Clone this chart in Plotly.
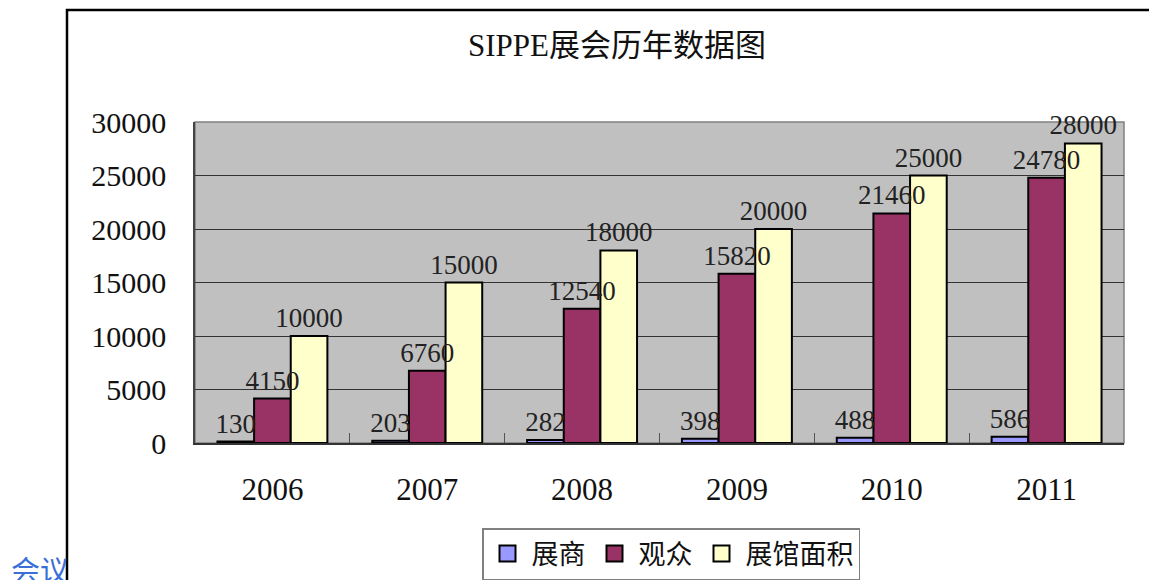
import plotly.graph_objects as go

years = ["2006", "2007", "2008", "2009", "2010", "2011"]
exhibitors = [130, 203, 282, 398, 488, 586]
visitors = [4150, 6760, 12540, 15820, 21460, 24780]
hall_area = [10000, 15000, 18000, 20000, 25000, 28000]
series_names = ["展商", "观众", "展馆面积"]
colors = ["#9999FF", "#993366", "#FFFFCC"]

OFF = 8  # page body margin
W, H = 1157 - OFF, 580 - OFF
L, R, T, B = 195 - OFF, 1124 - OFF, 122 - OFF, 443 - OFF

def px(x):
    return (x - OFF - L) / (R - L)

def py(y):
    return (B - (y - OFF)) / (B - T)

def cy(y):
    return 1 - (y - OFF) / H

FONT = "Liberation Serif, Noto Sans CJK SC, serif"
all_series = [exhibitors, visitors, hall_area]

fig = go.Figure()
# bars
for name, vals, col in zip(series_names, all_series, colors):
    fig.add_trace(go.Bar(
        x=years, y=vals, name=name, showlegend=False,
        marker=dict(color=col, line=dict(color="black", width=2)),
    ))
# data labels on an overlaid copy of the axes so they sit on top of all bars
for name, vals in zip(series_names, all_series):
    fig.add_trace(go.Bar(
        x=years, y=vals, name=name, showlegend=False, xaxis="x2", yaxis="y2",
        marker=dict(color="rgba(0,0,0,0)", line=dict(width=0)),
        text=[str(v) for v in vals], textposition="outside", constraintext="none",
        textfont=dict(family=FONT, size=27, color="#222"),
        cliponaxis=False, hoverinfo="skip",
    ))
# legend entries
for name, col in zip(series_names, colors):
    fig.add_trace(go.Scatter(
        x=[None], y=[None], name=name, mode="markers",
        marker=dict(symbol="square", size=16, color=col, line=dict(color="black", width=2)),
    ))

fig.update_layout(
    width=W, height=H,
    margin=dict(l=L, r=W - R, t=T, b=H - B, autoexpand=False),
    paper_bgcolor="white", plot_bgcolor="#C0C0C0",
    barmode="group", bargap=0.29, bargroupgap=0,
    title=dict(text="SIPPE展会历年数据图", xref="paper", x=px(617), xanchor="center",
               yref="container", y=cy(45), yanchor="middle",
               font=dict(family=FONT, size=31, color="#111")),
    font=dict(family=FONT, color="#111"),
    showlegend=True,
    legend=dict(orientation="h", xref="paper", x=px(671), xanchor="center",
                yref="container", y=cy(528), yanchor="top",
                bordercolor="#808080", borderwidth=1.5, bgcolor="white",
                font=dict(family=FONT, size=27, color="#111"),
                itemsizing="trace", itemwidth=38, tracegroupgap=0),
    xaxis=dict(type="category", showgrid=False, ticks="inside", ticklen=10,
               tickson="boundaries", tickcolor="#555", linecolor="#333", linewidth=2,
               mirror=False, tickfont=dict(family=FONT, size=31, color="#111"),
               ticklabelstandoff=18),
    yaxis=dict(range=[0, 30000], dtick=5000, tickformat="d", showgrid=True,
               gridcolor="#333", gridwidth=1,
               ticks="inside", ticklen=10, tickcolor="#333", linecolor="#444", linewidth=1.5,
               tickfont=dict(family=FONT, size=30, color="#111"), ticklabelstandoff=21,
               zeroline=False),
    xaxis2=dict(type="category", overlaying="x", matches="x", visible=False, showgrid=False),
    yaxis2=dict(overlaying="y", matches="y", visible=False, showgrid=False, zeroline=False),
)

# plot area frame
fig.add_shape(type="rect", xref="paper", yref="paper", x0=0, x1=1, y0=0, y1=1,
              line=dict(color="#808080", width=1.5), fillcolor="rgba(0,0,0,0)", layer="below")

# outer chart border (extends beyond the visible window)
fig.add_shape(type="rect", xref="paper", yref="paper",
              x0=px(67), x1=px(1200), y0=py(640), y1=py(10),
              line=dict(color="black", width=2.5), fillcolor="rgba(0,0,0,0)")

fig.add_annotation(text="会议", xref="paper", yref="paper", x=px(9), y=py(546),
                   xanchor="left", yanchor="top", showarrow=False,
                   font=dict(family="Noto Sans CJK SC", size=29, color="#3A6FD8"))

fig.write_html("out.html")
